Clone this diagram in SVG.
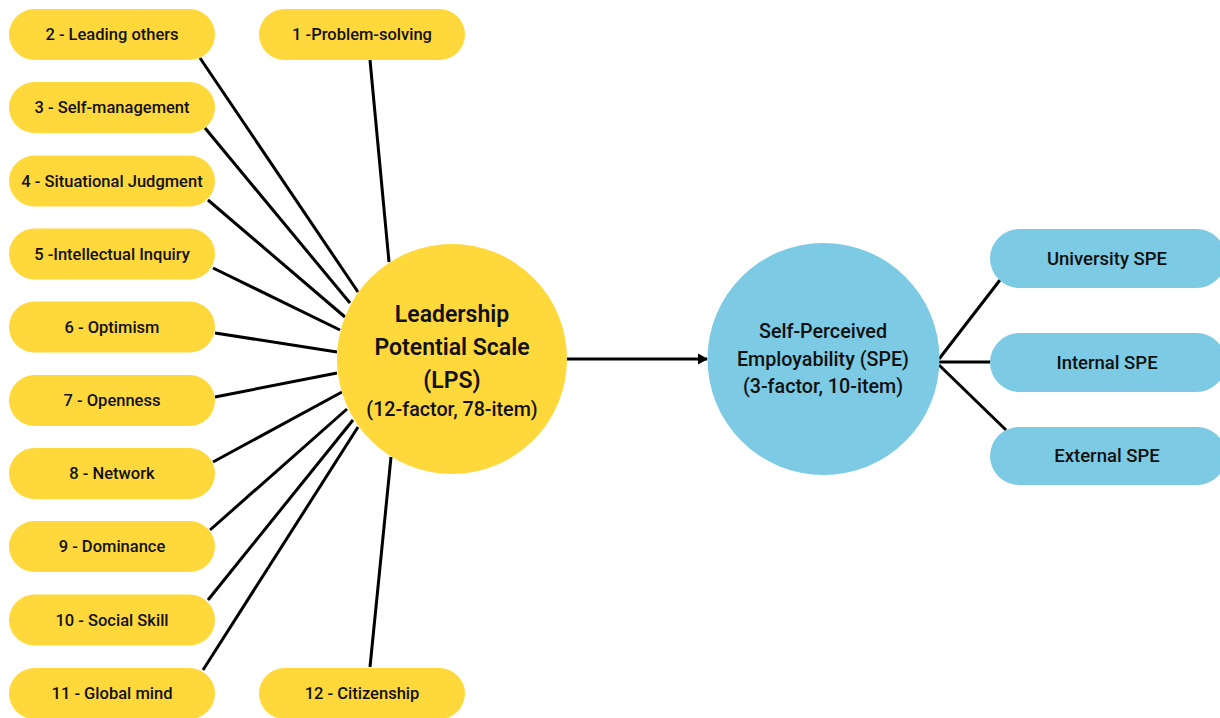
<svg xmlns="http://www.w3.org/2000/svg" width="1220" height="718" viewBox="0 0 1220 718">
<defs>
<style>
.y{fill:#FFD83B}
.b{fill:#7CCAE3}
.t{font-family:Roboto,"Liberation Sans",sans-serif;font-weight:500;fill:#111;text-anchor:middle;dominant-baseline:central}
.p{font-size:16.5px}
.q{font-size:18.5px}
.r{font-size:19.7px}
.c{font-size:23px;font-weight:600}
.l{stroke:#000;stroke-width:3;fill:none}
</style>
<marker id="ah" markerWidth="12" markerHeight="12" refX="9" refY="6" orient="auto" markerUnits="userSpaceOnUse">
<path d="M0,0.5 L10,6 L0,11.5 Z" fill="#000"/>
</marker>
</defs>
<rect width="1220" height="718" fill="#fff"/>
<g id="connectors">
<line class="l" x1="370" y1="60" x2="389" y2="262"/>
<line class="l" x1="200" y1="58" x2="358" y2="292"/>
<line class="l" x1="205" y1="128" x2="350" y2="303"/>
<line class="l" x1="208" y1="200" x2="345" y2="317"/>
<line class="l" x1="213" y1="268" x2="340" y2="330"/>
<line class="l" x1="215" y1="333" x2="337" y2="352"/>
<line class="l" x1="215" y1="397" x2="337" y2="373"/>
<line class="l" x1="213" y1="462" x2="342" y2="392"/>
<line class="l" x1="210" y1="530" x2="347" y2="409"/>
<line class="l" x1="208" y1="600" x2="353" y2="420"/>
<line class="l" x1="203" y1="670" x2="358" y2="427"/>
<line class="l" x1="370" y1="667" x2="391" y2="457"/>
<line class="l" x1="567" y1="359" x2="707" y2="359" marker-end="url(#ah)"/>
<line class="l" x1="939" y1="359" x2="1000" y2="280"/>
<line class="l" x1="939" y1="362" x2="991" y2="362"/>
<line class="l" x1="939" y1="365" x2="1006" y2="430"/>
</g>
<g id="lps"><circle class="y" cx="452" cy="359" r="115"/>
<text class="t c" x="452" y="314">Leadership</text>
<text class="t c" x="452" y="347">Potential Scale</text>
<text class="t c" x="452" y="380">(LPS)</text>
<text class="t r" x="452" y="409">(12-factor, 78-item)</text></g>
<g id="spe"><circle class="b" cx="823.5" cy="359" r="116"/>
<text class="t r" x="823" y="331">Self-Perceived</text>
<text class="t r" x="823" y="359">Employability (SPE)</text>
<text class="t r" x="823" y="386">(3-factor, 10-item)</text></g>
<g id="n1"><rect class="y" x="259" y="9" width="206" height="51" rx="25.5"/><text class="t p" x="362" y="34.5">1 -Problem-solving</text></g>
<g id="n2"><rect class="y" x="9" y="9" width="206" height="51" rx="25.5"/><text class="t p" x="112" y="34.5">2 - Leading others</text></g>
<g id="n3"><rect class="y" x="9" y="82" width="206" height="51" rx="25.5"/><text class="t p" x="112" y="107.5">3 - Self-management</text></g>
<g id="n4"><rect class="y" x="9" y="155.5" width="206" height="51" rx="25.5"/><text class="t p" x="112" y="181">4 - Situational Judgment</text></g>
<g id="n5"><rect class="y" x="9" y="228.5" width="206" height="51" rx="25.5"/><text class="t p" x="112" y="254">5 -Intellectual Inquiry</text></g>
<g id="n6"><rect class="y" x="9" y="301.5" width="206" height="51" rx="25.5"/><text class="t p" x="112" y="327">6 - Optimism</text></g>
<g id="n7"><rect class="y" x="9" y="375" width="206" height="51" rx="25.5"/><text class="t p" x="112" y="400.5">7 - Openness</text></g>
<g id="n8"><rect class="y" x="9" y="448" width="206" height="51" rx="25.5"/><text class="t p" x="112" y="473.5">8 - Network</text></g>
<g id="n9"><rect class="y" x="9" y="521" width="206" height="51" rx="25.5"/><text class="t p" x="112" y="546.5">9 - Dominance</text></g>
<g id="n10"><rect class="y" x="9" y="594.5" width="206" height="51" rx="25.5"/><text class="t p" x="112" y="620">10 - Social Skill</text></g>
<g id="n11"><rect class="y" x="9" y="668" width="206" height="51" rx="25.5"/><text class="t p" x="112" y="693.5">11 - Global mind</text></g>
<g id="n12"><rect class="y" x="259" y="668" width="206" height="51" rx="25.5"/><text class="t p" x="362" y="693.5">12 - Citizenship</text></g>
<g id="u"><rect class="b" x="990" y="229" width="236" height="59" rx="29.5"/><text class="t q" x="1107" y="258.5">University SPE</text></g>
<g id="i"><rect class="b" x="990" y="333" width="236" height="59" rx="29.5"/><text class="t q" x="1107" y="362.5">Internal SPE</text></g>
<g id="e"><rect class="b" x="990" y="427" width="236" height="58" rx="29"/><text class="t q" x="1107" y="456">External SPE</text></g>
</svg>
